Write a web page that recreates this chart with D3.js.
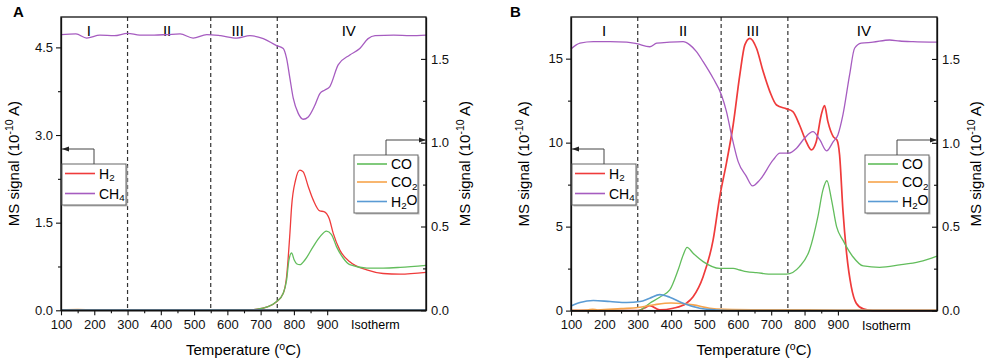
<!DOCTYPE html>
<html><head><meta charset="utf-8">
<script src="https://cdn.jsdelivr.net/npm/d3@7"></script>
<style>
body{margin:0;background:#fff;}
svg{font-family:"Liberation Sans",Arial,sans-serif;}
</style></head>
<body><svg id="c" width="987" height="363"></svg>
<script>
// ---------- DATA ----------
const xMajorTicks = [100,200,300,400,500,600,700,800,900];
const xMinorTicks = [150,250,350,450,550,650,750,850];
const stageBounds = [300,550,750];
const stageLabels = ["I","II","III","IV"];
const stageLabelXA = [184,419,631,965];
const stageLabelXB = [199,436,645,978];
const isothermLabel = "Isotherm";
const isothermX = 1045;

// Panel A
const leftTicksA = [0,1.5,3.0,4.5];
const leftMinorA = [0.75,2.25,3.75];
const rightTicksA = [0,0.5,1.0,1.5];
const rightMinorA = [0.25,0.75,1.25];

const tA_CH4 = [100,145,177,217,260,300,337,380,420,458,497,538,580,628,668,708,748,768,778,788,798,813,828,843,863,878,893,908,933,968,998,1023,1044,1100,1150,1197];
const ch4A   = [4.72,4.73,4.66,4.71,4.70,4.74,4.71,4.71,4.72,4.73,4.66,4.72,4.70,4.66,4.70,4.65,4.53,4.48,4.31,3.97,3.63,3.37,3.27,3.31,3.51,3.71,3.77,3.83,4.20,4.37,4.48,4.65,4.70,4.71,4.70,4.71];
const tA_H2 = [100,300,500,650,690,720,748,768,778,788,793,805,818,828,843,858,878,890,906,918,938,968,1019,1068,1119,1197];
const h2A   = [0,0,0,0.005,0.02,0.06,0.147,0.29,0.575,1.32,1.77,2.23,2.40,2.37,2.12,1.89,1.70,1.69,1.57,1.32,1.03,0.83,0.69,0.63,0.62,0.65];
const tA_CO = [100,300,500,650,690,720,748,768,778,785,793,801,808,818,833,858,878,898,913,928,948,968,1019,1068,1119,1197];
const coA   = [0,0,0,0.002,0.007,0.02,0.052,0.102,0.18,0.30,0.342,0.30,0.278,0.272,0.30,0.38,0.438,0.472,0.452,0.38,0.312,0.272,0.252,0.252,0.256,0.268];
const tA_CO2 = [100,150,200,400,600,800,1000,1197];
const co2A   = [0.002,0.004,0.002,0.002,0.002,0.003,0.003,0.003];
const tA_H2O = [100,400,700,1000,1197];
const h2oA   = [0.001,0.001,0.001,0.001,0.001];

// Panel B
const leftTicksB = [0,5,10,15];
const leftMinorB = [2.5,7.5,12.5];
const rightTicksB = [0,0.5,1.0,1.5];
const rightMinorB = [0.25,0.75,1.25];

const tB_CH4 = [100,127,167,217,267,297,336,357,396,436,456,476,496,526,551,566,581,601,626,644,666,706,726,751,776,800,825,846,866,886,900,915,935,950,970,1005,1055,1085,1125,1197];
const ch4B   = [15.58,15.92,16.01,16.01,15.98,15.89,15.71,15.92,15.98,16.01,15.82,15.42,14.82,13.83,12.84,11.85,10.46,8.87,7.98,7.42,7.78,8.97,9.37,9.37,9.67,10.26,10.65,10.16,9.51,10.06,10.46,11.65,14.03,15.62,15.92,15.98,16.11,16.05,16.01,15.98];
const tB_H2 = [100,200,300,320,336,366,406,446,466,496,526,546,566,586,606,621,636,656,676,696,716,746,765,785,805,820,835,850,860,870,886,897,905,915,925,940,955,976,1005,1197];
const h2B   = [0,0,0,0.15,0.3,0.04,0.14,0.44,0.83,2.02,4.21,6.79,8.8,11.05,14.03,15.82,16.21,15.62,14.23,13.04,12.24,12.01,11.85,11.05,10.06,9.57,10.06,11.65,12.2,11.25,10.36,10.16,9.27,5.99,3.61,1.43,0.44,0.1,0,0];
const tB_CO = [100,250,301,336,366,396,421,436,448,466,496,546,586,606,626,656,706,746,785,815,840,855,867,881,896,915,945,976,1025,1085,1145,1197];
const coB   = [0,0,0,0.044,0.08,0.123,0.242,0.33,0.377,0.342,0.292,0.252,0.252,0.242,0.232,0.226,0.217,0.217,0.262,0.361,0.56,0.718,0.774,0.659,0.5,0.42,0.321,0.266,0.258,0.272,0.292,0.325];
const tB_CO2 = [100,150,165,180,250,301,350,400,466,516,560,700,900,1197];
const co2B   = [0.002,0.004,0.008,0.004,0.012,0.018,0.035,0.045,0.034,0.014,0.008,0.005,0.004,0.003];
const tB_H2O = [100,127,167,217,267,307,336,366,396,436,486,536,600,800,1197];
const h2oB   = [0.028,0.048,0.06,0.054,0.048,0.054,0.074,0.095,0.08,0.044,0.014,0.004,0.001,0.001,0.001];

const colors = {H2:"#ef3b3b", CH4:"#a65cc0", CO:"#62bd5c", CO2:"#f7a44c", H2O:"#5a9bd4"};

// ---------- DRAW ----------
const svg = d3.select("#c");

function sub(sel, parts){
  parts.forEach(p=>{
    const t = sel.append("tspan").text(p[0]);
    if(p[1]==="sub") t.attr("font-size","0.7em").attr("dy","0.3em");
    if(p[1]==="after") t.attr("dy","-0.3em");
  });
}

function panel(cfg){
  const g = svg.append("g");
  const x = d3.scaleLinear().domain([100,1197]).range([cfg.x0,cfg.x1]);
  const yL = d3.scaleLinear().domain([0,cfg.leftMax]).range([cfg.y0,cfg.y1]);
  const yR = d3.scaleLinear().domain([0,1.75]).range([cfg.y0,cfg.y1]);

  stageBounds.forEach(b=>{
    g.append("line").attr("x1",x(b)).attr("x2",x(b)).attr("y1",cfg.y1).attr("y2",cfg.y0)
     .attr("stroke","#333").attr("stroke-width",1.2).attr("stroke-dasharray","4,3");
  });
  stageLabels.forEach((s,i)=>{
    g.append("text").attr("x",x(cfg.stageX[i])).attr("y",36)
     .attr("text-anchor","middle").attr("font-size",15).text(s);
  });

  const line = (xs,ys,yS)=> d3.line().x((d,i)=>x(xs[i])).y((d,i)=>yS(ys[i])).curve(d3.curveMonotoneX)(ys);
  const series = [
    [cfg.tH2,cfg.h2,yL,colors.H2, cfg.h2w],
    [cfg.tCH4,cfg.ch4,yL,colors.CH4,1.3],
    [cfg.tCO,cfg.co,yR,colors.CO,1.3],
    [cfg.tCO2,cfg.co2,yR,colors.CO2,1.6],
    [cfg.tH2O,cfg.h2o,yR,colors.H2O,1.6]
  ];
  series.forEach(s=>{
    g.append("path").attr("d",line(s[0],s[1],s[2])).attr("fill","none")
     .attr("stroke",s[3]).attr("stroke-width",s[4]);
  });

  g.append("rect").attr("x",cfg.x0).attr("y",cfg.y1).attr("width",cfg.x1-cfg.x0).attr("height",cfg.y0-cfg.y1)
   .attr("fill","none").attr("stroke","#111").attr("stroke-width",1.3);

  g.append("g").attr("transform",`translate(0,${cfg.y0})`)
    .call(d3.axisBottom(x).tickValues(xMajorTicks).tickSize(5).tickSizeOuter(0).tickPadding(4));
  g.append("g").attr("transform",`translate(0,${cfg.y0})`)
    .call(d3.axisBottom(x).tickValues(xMinorTicks).tickSize(3).tickFormat("")).select(".domain").remove();
  g.append("text").attr("x",x(isothermX)).attr("y",cfg.y0+19).attr("text-anchor","middle").attr("font-size",12.5).text(isothermLabel);

  g.append("g").attr("transform",`translate(${cfg.x0},0)`)
    .call(d3.axisLeft(yL).tickValues(cfg.leftTicks).tickSize(5).tickSizeOuter(0).tickPadding(3).tickFormat(cfg.leftFmt));
  g.append("g").attr("transform",`translate(${cfg.x0},0)`)
    .call(d3.axisLeft(yL).tickValues(cfg.leftMinor).tickSize(3).tickFormat("")).select(".domain").remove();
  g.append("g").attr("transform",`translate(${cfg.x1},0)`)
    .call(d3.axisRight(yR).tickValues(cfg.rightTicks).tickSize(-5).tickSizeOuter(0).tickPadding(5).tickFormat(d3.format(".1f")));
  g.append("g").attr("transform",`translate(${cfg.x1},0)`)
    .call(d3.axisRight(yR).tickValues(cfg.rightMinor).tickSize(-3).tickFormat("")).select(".domain").remove();

  g.selectAll(".tick text").attr("font-size",13).attr("fill","#111").attr("font-family","Liberation Sans, Arial, sans-serif");
  g.selectAll(".domain").attr("stroke","#111").attr("stroke-width",1.3);
  g.selectAll(".tick line").attr("stroke","#111").attr("stroke-width",1.1);

  g.append("text").attr("x",(cfg.x0+cfg.x1)/2).attr("y",355).attr("text-anchor","middle").attr("font-size",15)
   .call(t=>{t.append("tspan").text("Temperature ("); t.append("tspan").attr("font-size","0.7em").attr("dy","-0.5em").text("o"); t.append("tspan").attr("dy","0.35em").text("C)");});
  const yt = (cx)=>{
    g.append("text").attr("transform",`translate(${cx},${(cfg.y0+cfg.y1)/2}) rotate(-90)`)
     .attr("text-anchor","middle").attr("font-size",15).attr("dy","0.35em")
     .call(t=>{t.append("tspan").text("MS signal (10"); t.append("tspan").attr("font-size","0.7em").attr("dy","-0.55em").text("-10");
       t.append("tspan").attr("dy","0.39em").text(" A)");});
  };
  yt(cfg.x0-47);
  yt(cfg.x1+39);

  g.append("text").attr("x",cfg.letterX).attr("y",17).attr("font-size",15).attr("font-weight","bold").text(cfg.id);

  function legend(bx, by, bw, bh, items, arrowX, arrowY, arrowToX){
    const lg = g.append("g");
    lg.append("rect").attr("x",bx+1.5).attr("y",by+1.5).attr("width",bw).attr("height",bh).attr("fill","#bbb");
    lg.append("rect").attr("x",bx).attr("y",by).attr("width",bw).attr("height",bh).attr("fill","#fff").attr("stroke","#666").attr("stroke-width",1);
    lg.append("path").attr("d",`M${arrowX},${by} V${arrowY} H${arrowToX}`).attr("fill","none").attr("stroke","#444").attr("stroke-width",1);
    const dir = arrowToX<arrowX? 1 : -1;
    lg.append("path").attr("d",`M${arrowToX},${arrowY} l${dir*7},-2.5 v5 z`).attr("fill","#222");
    items.forEach((it)=>{
      const yy = by + it.dy;
      lg.append("line").attr("x1",bx+3).attr("x2",bx+33).attr("y1",yy).attr("y2",yy).attr("stroke",it.color).attr("stroke-width",1.6);
      lg.append("text").attr("x",bx+37).attr("y",yy+5).attr("font-size",14).call(t=>sub(t,it.parts));
    });
  }
  legend(cfg.x0+1, 164, 64, 41, [
    {color:colors.H2, dy:9.5, parts:[["H"],["2","sub"]]},
    {color:colors.CH4, dy:29.5, parts:[["CH"],["4","sub"]]}
  ], cfg.x0+33, 149, cfg.x0+1);
  legend(cfg.x1-72, 155, 64, 58, [
    {color:colors.CO, dy:9, parts:[["CO"]]},
    {color:colors.CO2, dy:27, parts:[["CO"],["2","sub"]]},
    {color:colors.H2O, dy:46.5, parts:[["H"],["2","sub"],["O","after"]]}
  ], cfg.x1-40, 140, cfg.x1);
}

panel({id:"A", x0:61, x1:426, y0:310.3, y1:17, leftMax:5.02, letterX:13, stageX:stageLabelXA,
  leftTicks:leftTicksA, leftMinor:leftMinorA, rightTicks:rightTicksA, rightMinor:rightMinorA, leftFmt:d3.format(".1f"),
  tH2:tA_H2, h2:h2A, tCH4:tA_CH4, ch4:ch4A, tCO:tA_CO, co:coA, tCO2:tA_CO2, co2:co2A, tH2O:tA_H2O, h2o:h2oA, h2w:1.3});
panel({id:"B", x0:571, x1:937, y0:310.6, y1:17, leftMax:17.48, letterX:510, stageX:stageLabelXB,
  leftTicks:leftTicksB, leftMinor:leftMinorB, rightTicks:rightTicksB, rightMinor:rightMinorB, leftFmt:d3.format("d"),
  tH2:tB_H2, h2:h2B, tCH4:tB_CH4, ch4:ch4B, tCO:tB_CO, co:coB, tCO2:tB_CO2, co2:co2B, tH2O:tB_H2O, h2o:h2oB, h2w:1.7});
</script></body></html>
